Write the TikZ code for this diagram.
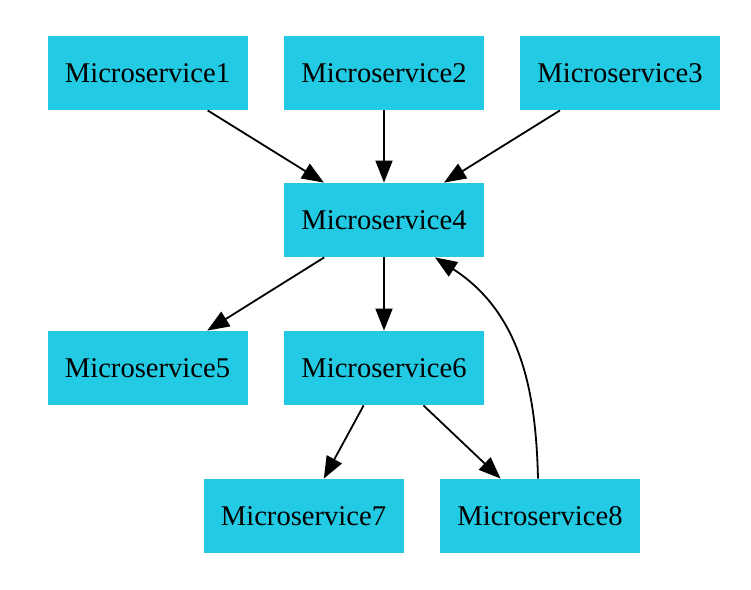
\documentclass[tikz,border=0pt]{standalone}
\usepackage{fontspec}
\setmainfont{Liberation Serif}
\usetikzlibrary{arrows.meta,calc}
\definecolor{svccyan}{RGB}{34,203,227}
\tikzset{
	svc/.style={fill=svccyan,draw=none,minimum width=100pt,minimum height=37pt,inner sep=0pt,font=\fontsize{14.3}{17}\selectfont},
	flow/.style={line width=0.9pt,-{Triangle[length=11pt,width=8.5pt]}}
}
\begin{document}
\begin{tikzpicture}[x=0.5pt,y=-0.5pt]
		\useasboundingbox (0,0) rectangle (751,590);
		
		\foreach \n/\x/\y in {1/147.5/73,2/384/73,3/620/73,4/384/220,5/147.5/368,6/384/368,7/303.5/516,8/540/516}{
			\node[svc] (m\n) at (\x,\y) {Microservice\n};
		}
		
		\draw[flow] (m1) -- (m4);
		\draw[flow] (m2) -- (m4);
		\draw[flow] (m3) -- (m4);
		\draw[flow] (m4) -- (m5);
		\draw[flow] (m4) -- (m6);
		\draw[flow] (m6) -- (m7);
		\draw[flow] (m6) -- (m8);
		\draw[flow] ($(m8.north)+(-2,0)$) .. controls ($(m8.north)+(-4,-85)$) and ($(m8.north)+(-18,-165)$) .. ($(m4.south)+(51,0)$);
\end{tikzpicture}
\end{document}
